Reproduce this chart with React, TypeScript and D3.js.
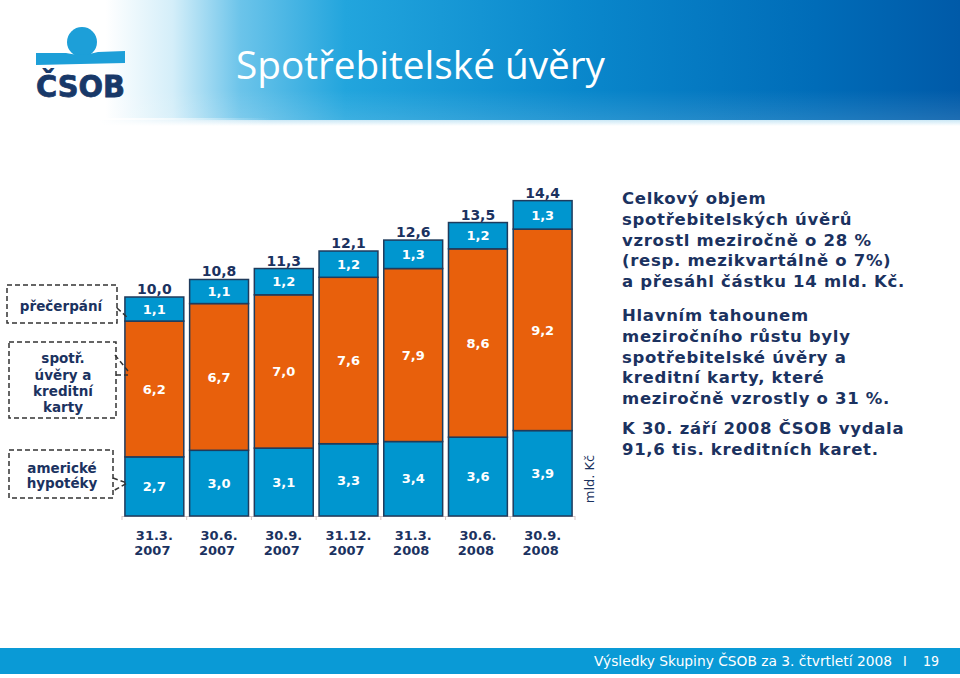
import React from "react";
import * as d3 from "d3";

const dateLabels = ["31.3.", "30.6.", "30.9.", "31.12.", "31.3.", "30.6.", "30.9."];
const yearLabels = ["2007", "2007", "2007", "2007", "2008", "2008", "2008"];
const hypoteky = [2.7, 3.0, 3.1, 3.3, 3.4, 3.6, 3.9];
const spotrebitelske = [6.2, 6.7, 7.0, 7.6, 7.9, 8.6, 9.2];
const precerpani = [1.1, 1.1, 1.2, 1.2, 1.3, 1.2, 1.3];
const totals = [10.0, 10.8, 11.3, 12.1, 12.6, 13.5, 14.4];
const seriesNames = ["hypoteky", "spotrebitelske", "precerpani"];

const paragraphs = [
  ["Celkový objem", "spotřebitelských úvěrů", "vzrostl meziročně o 28 %", "(resp. mezikvartálně o 7%)", "a přesáhl částku 14 mld. Kč."],
  ["Hlavním tahounem", "meziročního růstu byly", "spotřebitelské úvěry a", "kreditní karty, které", "meziročně vzrostly o 31 %."],
  ["K 30. září 2008 ČSOB vydala", "91,6 tis. kreditních karet."],
];

const BLUE = "#0096cf";
const ORANGE = "#e8600c";
const NAVY = "#1b3260";
const STROKE = "#1f3b5c";
const FONT = "'DejaVu Sans', Verdana, sans-serif";

const fmt = (v: number) => d3.format(".1f")(v).replace(".", ",");

export default function App() {
  const W = 960, H = 678;
  const x = d3.scaleBand<number>().domain(d3.range(dateLabels.length)).range([122, 575]).paddingInner(0.09).paddingOuter(0.045);
  const y = d3.scaleLinear().domain([0, 15]).range([516, 187.5]);
  const rows = dateLabels.map((_, i) => ({ hypoteky: hypoteky[i], spotrebitelske: spotrebitelske[i], precerpani: precerpani[i] }));
  const stack = d3.stack<any>().keys(seriesNames)(rows);
  const colors: Record<string, string> = { hypoteky: BLUE, spotrebitelske: ORANGE, precerpani: BLUE };
  const step = x.step();
  const ticks = d3.range(dateLabels.length + 1).map((i) => 122 + i * step * (453 / (step * 7)));

  const paraStarts = [204, 321, 434];

  return (
    <svg width={W} height={H} style={{ position: "absolute", left: 0, top: 0, background: "#fff" }}>
      <defs>
        <linearGradient id="hdr" x1="0" x2="1" y1="0" y2="0">
          <stop offset="0" stopColor="#ffffff" />
          <stop offset="0.11" stopColor="#ffffff" />
          <stop offset="0.18" stopColor="#d4eef9" />
          <stop offset="0.25" stopColor="#6cc4ea" />
          <stop offset="0.36" stopColor="#22a5dd" />
          <stop offset="0.6" stopColor="#0a88cc" />
          <stop offset="0.85" stopColor="#006cb8" />
          <stop offset="1" stopColor="#005aa8" />
        </linearGradient>
        <linearGradient id="hdrv" x1="0" x2="0" y1="0" y2="1">
          <stop offset="0" stopColor="#ffffff" stopOpacity="0" />
          <stop offset="0.75" stopColor="#ffffff" stopOpacity="0" />
          <stop offset="1" stopColor="#ffffff" stopOpacity="0.12" />
        </linearGradient>
        <linearGradient id="shadow" x1="0" x2="0" y1="0" y2="1">
          <stop offset="0" stopColor="#b5def2" />
          <stop offset="1" stopColor="#ffffff" />
        </linearGradient>
        <linearGradient id="shadowh" x1="0" x2="1" y1="0" y2="0">
          <stop offset="0" stopColor="#ffffff" stopOpacity="1" />
          <stop offset="0.2" stopColor="#ffffff" stopOpacity="0" />
          <stop offset="1" stopColor="#ffffff" stopOpacity="0" />
        </linearGradient>
      </defs>
      <rect x={0} y={0} width={W} height={H} fill="#fff" />
      {/* header */}
      <rect x={0} y={0} width={W} height={120} fill="url(#hdr)" />
      <rect x={0} y={0} width={W} height={120} fill="url(#hdrv)" />
      <rect x={100} y={120} width={W - 100} height={6} fill="url(#shadow)" opacity={0.7} />
      <rect x={100} y={118} width={W - 100} height={9} fill="url(#shadowh)" />
      {/* logo */}
      <circle cx={82} cy={42} r={15} fill="#1d9fd8" />
      <path d="M36,53 L66,53 Q82,57 98,52 L125,51 L125,63 L36,65 Z" fill="#1d9fd8" />
      <text x={36} y={97} fontFamily={FONT} fontWeight="bold" fontSize={30} fill="#183868" stroke="#183868" strokeWidth={0.8} textLength={89} lengthAdjust="spacingAndGlyphs">ČSOB</text>
      <text x={236} y={79} fontFamily="'Open Sans', sans-serif" fontSize={38.5} fill="#ffffff" textLength={369} lengthAdjust="spacingAndGlyphs">Spotřebitelské úvěry</text>

      {/* axis */}
      <line x1={122} x2={575} y1={516.5} y2={516.5} stroke="#d9c6c6" strokeWidth={1} />
      {ticks.map((t, i) => (
        <line key={"t" + i} x1={t} x2={t} y1={516} y2={520} stroke="#d9c6c6" strokeWidth={1} />
      ))}

      {/* bars */}
      {stack.map((s) => (
        <g key={s.key}>
          {s.map((d, i) => (
            <g key={i}>
              <rect x={x(i)!} y={y(d[1])} width={x.bandwidth()} height={y(d[0]) - y(d[1])} fill={colors[s.key]} stroke={STROKE} strokeWidth={1.5} />
              <text x={x(i)! + x.bandwidth() / 2} y={(y(d[0]) + y(d[1])) / 2} dy="0.36em" textAnchor="middle" fontFamily={FONT} fontWeight="bold" fontSize={13} fill="#ffffff">
                {fmt(d[1] - d[0])}
              </text>
            </g>
          ))}
        </g>
      ))}
      {totals.map((t, i) => (
        <text key={"tot" + i} x={x(i)! + x.bandwidth() / 2} y={y(stack[2][i][1]) - 3} textAnchor="middle" fontFamily={FONT} fontWeight="bold" fontSize={14} fill={NAVY}>
          {fmt(t)}
        </text>
      ))}
      {dateLabels.map((l, i) => (
        <g key={"c" + i} fontFamily={FONT} fontWeight="bold" fontSize={13} fill={NAVY} textAnchor="middle">
          <text x={x(i)! + x.bandwidth() / 2} y={540}>{l}</text>
          <text x={x(i)! + x.bandwidth() / 2 - 2} y={555}>{yearLabels[i]}</text>
        </g>
      ))}
      <text transform="translate(594,479) rotate(-90)" textAnchor="middle" fontFamily={FONT} fontSize={13} fill={NAVY}>mld. Kč</text>

      {/* legend boxes */}
      <g fill="none" stroke="#333" strokeWidth={1.5} strokeDasharray="5,3">
        <rect x={7} y={285} width={110} height={38} />
        <rect x={9} y={342} width={107} height={76} />
        <rect x={9} y={450} width={104} height={48} />
        <path d="M117,308 L128,318" />
        <path d="M115,355 L128,371 M116,375 L128,375" />
        <path d="M113,478 L127,483 L113,491" />
      </g>
      <g fontFamily={FONT} fontWeight="bold" fontSize={13.5} fill={NAVY} textAnchor="middle">
        <text x={61} y={311}>přečerpání</text>
        <text x={63} y={363}>spotř.</text>
        <text x={63} y={380}>úvěry a</text>
        <text x={63} y={396}>kreditní</text>
        <text x={63} y={412}>karty</text>
        <text x={62} y={473}>americké</text>
        <text x={62} y={488}>hypotéky</text>
      </g>

      {/* right text */}
      <g fontFamily={FONT} fontWeight="bold" fontSize={16.5} fill={NAVY} letterSpacing={0.7}>
        {paragraphs.map((p, pi) =>
          p.map((line, li) => (
            <text key={pi + "-" + li} x={622} y={paraStarts[pi] + li * 20.8}>{line}</text>
          ))
        )}
      </g>

      {/* footer */}
      <rect x={0} y={648} width={W} height={26} fill="#0a9ad6" />
      <g fontFamily="'DejaVu Sans Condensed', 'DejaVu Sans', sans-serif" fontSize={14} fill="#ffffff">
        <text x={594} y={666} textLength={298} lengthAdjust="spacingAndGlyphs">Výsledky Skupiny ČSOB za 3. čtvrtletí 2008</text>
        <text x={903} y={666}>I</text>
        <text x={923} y={666}>19</text>
      </g>
    </svg>
  );
}
